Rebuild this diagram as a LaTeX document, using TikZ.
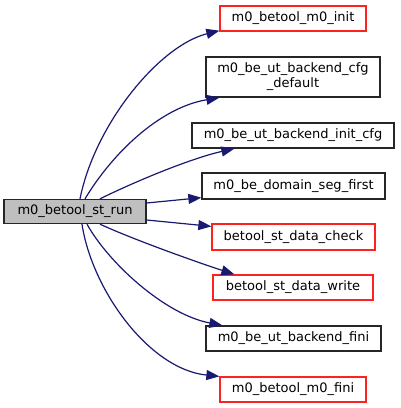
\documentclass[tikz,border=0pt]{standalone}
\usepackage{fontspec}
\setmainfont{DejaVu Sans}
\usetikzlibrary{arrows.meta}
\definecolor{edgeblue}{HTML}{191970}
\definecolor{rootgrey}{HTML}{BFBFBF}
\definecolor{nodocred}{HTML}{FF2020}
\begin{document}
\begin{tikzpicture}[x=1pt, y=-1pt,
  fn/.style={draw=black!85, line width=1.3pt, inner sep=0pt, minimum height=25pt,
    font=\fontsize{13}{15}\selectfont, align=center},
  nodoc/.style={fn, draw=nodocred},
  call/.style={edgeblue, line width=1.2pt, -{Triangle[length=13pt, width=10pt]}}]

  \useasboundingbox (0,0) rectangle (400,408);

  % -- Caller --
  \node[fn, fill=rootgrey, minimum width=142pt, minimum height=24pt] (run) at (75,211.5) {m0\_betool\_st\_run};

  % -- Callees --
  \node[nodoc, minimum width=146pt] (m0init) at (293,18.5) {m0\_betool\_m0\_init};
  \node[fn, minimum width=174pt, minimum height=40pt] (cfgdefault) at (293,77) {m0\_be\_ut\_backend\_cfg\\\_default};
  \node[fn, minimum width=202pt] (initcfg) at (293,135.5) {m0\_be\_ut\_backend\_init\_cfg};
  \node[fn, minimum width=183pt, minimum height=26pt] (segfirst) at (293.5,186) {m0\_be\_domain\_seg\_first};
  \node[nodoc, minimum width=163pt, minimum height=26pt] (datacheck) at (293.5,237) {betool\_st\_data\_check};
  \node[nodoc, minimum width=160pt] (datawrite) at (293,287.5) {betool\_st\_data\_write};
  \node[fn, minimum width=175pt] (backendfini) at (293.5,338.5) {m0\_be\_ut\_backend\_fini};
  \node[nodoc, minimum width=146pt] (m0fini) at (293,389.5) {m0\_betool\_m0\_fini};

  % -- Calls --
  \draw[call] ([xshift=5pt]run.north) .. controls +(15,-75) and +(-60,15) .. ([yshift=1pt]m0init.south west);
  \draw[call] ([xshift=10pt]run.north) .. controls +(27,-45) and +(-60,10) .. ([xshift=14pt]cfgdefault.south west);
  \draw[call] ([xshift=25pt]run.north) .. controls +(30,-15) and +(-45,10) .. ([xshift=43pt]initcfg.south west);
  \draw[call] ([yshift=8.5pt]run.east) -- ([yshift=2pt]segfirst.south west);
  \draw[call] ([yshift=-8.5pt]run.east) -- ([yshift=-3pt]datacheck.north west);
  \draw[call] ([xshift=25pt]run.south) .. controls +(30,14) and +(-40,-13) .. ([xshift=22pt]datawrite.north west);
  \draw[call] ([xshift=12pt]run.south) .. controls +(21,38) and +(-58,-11) .. ([xshift=17pt]backendfini.north west);
  \draw[call] ([xshift=7pt]run.south) .. controls +(10,66) and +(-70,-7) .. (m0fini.north west);

\end{tikzpicture}
\end{document}
